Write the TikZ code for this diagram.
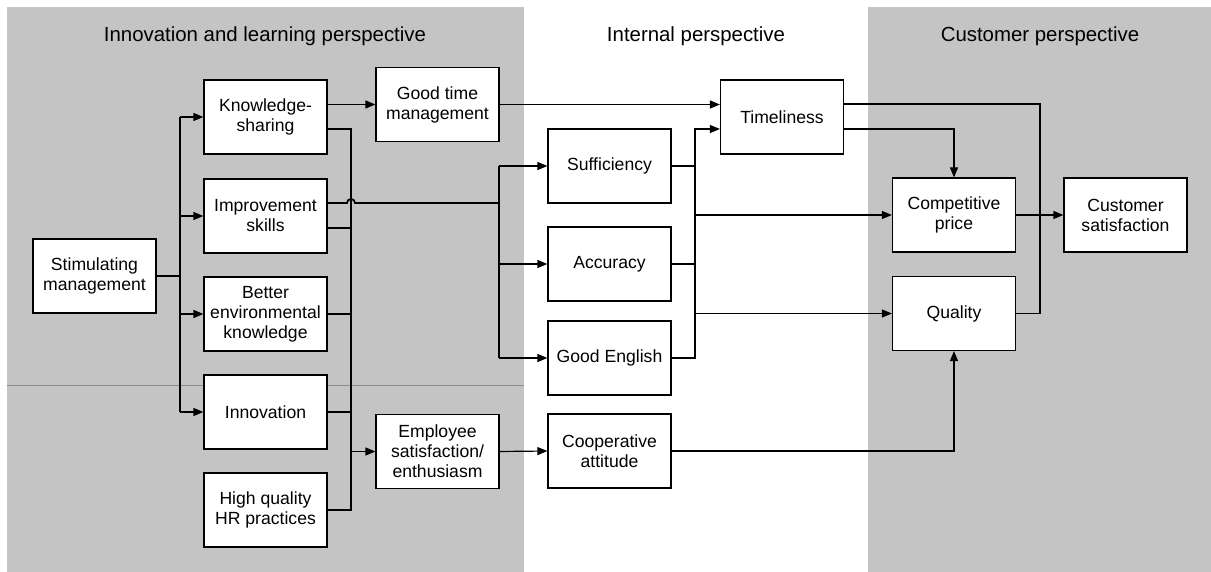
\documentclass[tikz,border=0pt]{standalone}
\usepackage{fontspec}
\setmainfont{Liberation Sans}
\usetikzlibrary{arrows.meta}

\definecolor{panelgray}{RGB}{196,196,196}
\definecolor{splitgray}{RGB}{140,140,140}

\tikzset{
  box/.style={draw=black, fill=white, line width=0.6pt, minimum width=61.5pt,
    minimum height=37pt, inner sep=1pt, align=center,
    font=\fontsize{8.8}{10}\selectfont},
  title/.style={anchor=base, font=\fontsize{10.2}{12}\selectfont},
  line/.style={draw=black, line width=0.6pt},
  arr/.style={line, -{Triangle[length=5pt,width=4pt]}}
}

\begin{document}
\begin{tikzpicture}[x=0.5pt, y=-0.5pt]
    \useasboundingbox (0,0) rectangle (1211,572);

    % Perspective panels
    \fill[panelgray] (7,7) rectangle (524,572);
    \fill[panelgray] (868,7) rectangle (1211,572);
    \draw[splitgray, line width=0.5pt] (7,386) -- (524,386);

    \node[title] (tinno) at (265,42) {Innovation and learning perspective};
    \node[title] (tint) at (696,42) {Internal perspective};
    \node[title] (tcust) at (1040,42) {Customer perspective};

    % Innovation and learning
    \node[box] (stim) at (94.5,276) {Stimulating\\management};
    \node[box] (ks) at (265.5,117) {Knowledge-\\sharing};
    \node[box] (imp) at (265.5,216) {Improvement\\skills};
    \node[box] (env) at (265.5,314) {Better\\environmental\\knowledge};
    \node[box] (inno) at (265.5,412) {Innovation};
    \node[box] (hr) at (265.5,510) {High quality\\HR practices};
    \node[box] (gtm) at (437.5,104.5) {Good time\\management};
    \node[box] (emp) at (437.5,451.5) {Employee\\satisfaction/\\enthusiasm};

    % Internal
    \node[box] (suf) at (609.5,166) {Sufficiency};
    \node[box] (acc) at (609.5,264) {Accuracy};
    \node[box] (eng) at (609.5,358) {Good English};
    \node[box] (coop) at (609.5,451) {Cooperative\\attitude};
    \node[box] (time) at (782,117) {Timeliness};

    % Customer
    \node[box] (price) at (954,215) {Competitive\\price};
    \node[box] (qual) at (954,313.5) {Quality};
    \node[box] (cust) at (1125.5,215) {Customer\\satisfaction};

    % Bus lines
    \coordinate (b1) at (180,0);
    \coordinate (b2) at (351,0);
    \coordinate (b3) at (499,0);
    \coordinate (b4) at (695,0);
    \coordinate (b5) at (1040,0);

    % Stimulating management fan-out
    \draw[line, line width=1pt] (stim.east) -- (stim.east -| b1);
    \draw[line] (b1 |- ks) -- (b1 |- inno);
    \foreach \n in {ks,imp,env,inno}
        \draw[arr] (b1 |- \n) -- (\n.west);

    \draw[arr] (ks.east |- gtm) -- (gtm.west);

    % Into employee satisfaction
    \draw[line] ([yshift=-6pt]ks.east) -| (b2 |- hr.east) -- (hr.east);
    \draw[line] ([yshift=-6pt]imp.east) -- ([yshift=-6pt]imp.east -| b2);
    \draw[line] (env.east) -- (env.east -| b2);
    \draw[line] (inno.east) -- (inno.east -| b2);
    \draw[arr] (b2 |- emp) -- (emp.west);

    % Improvement skills, hopping over the bus
    \draw[line, line width=0.9pt] ([yshift=6.5pt]imp.east) -- ([xshift=-2pt]b2 |- 0,203)
        arc (180:0:2pt) -- (b3 |- 0,203);
    \draw[line] (b3 |- suf) -- (b3 |- eng);
    \foreach \n in {suf,acc,eng}
        \draw[arr] (b3 |- \n) -- (\n.west);

    \draw[arr] (gtm.east) -- (time.west |- gtm);

    % Internal to customer
    \draw[line] (suf.east) -- (suf.east -| b4);
    \draw[line] (acc.east) -- (acc.east -| b4);
    \draw[arr] (eng.east) -| ([yshift=-6pt]time.west -| b4) -- ([yshift=-6pt]time.west);
    \draw[arr] (b4 |- price) -- (price.west);
    \draw[arr] (b4 |- qual) -- (qual.west);

    \draw[line] ([yshift=6.5pt]time.east) -| (b5 |- qual) -- (qual.east);
    \draw[arr] ([yshift=-6pt]time.east) -| (price.north);
    \draw[arr] (price.east) -- (cust.west);

    \draw[arr] (emp.east) -- (coop.west);
    \draw[arr] (coop.east) -| (qual.south);
\end{tikzpicture}
\end{document}
